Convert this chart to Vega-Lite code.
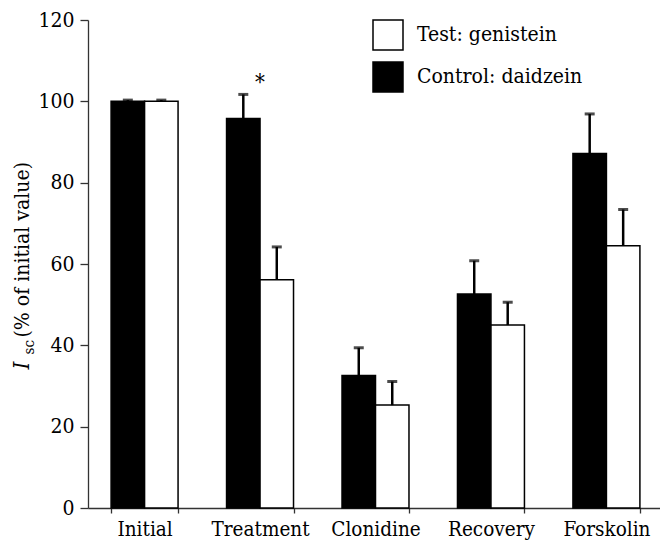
{
  "$schema": "https://vega.github.io/schema/vega-lite/v6.json",
  "width": 575,
  "height": 488,
  "autosize": {"type": "none"},
  "padding": {"left": 88, "top": 20, "right": 0, "bottom": 37},
  "background": "white",
  "config": {
    "view": {"stroke": null},
    "font": "DejaVu Serif Condensed",
    "axis": {
      "labelFont": "DejaVu Serif Condensed",
      "titleFont": "DejaVu Serif Condensed",
      "labelFontSize": 21,
      "titleFontSize": 21,
      "titleFontWeight": "normal",
      "labelColor": "black",
      "titleColor": "black",
      "domainColor": "#333",
      "tickColor": "#333",
      "domainWidth": 1.3,
      "tickWidth": 1.3,
      "grid": false
    },
    "axisX": {"labelFontSize": 20.5},
    "legend": {
      "labelFont": "DejaVu Serif Condensed",
      "labelFontSize": 21,
      "labelColor": "black",
      "labelLimit": 400
    }
  },
  "data": {
    "values": [
      {"phase": "Initial", "group": "Control: daidzein", "mean": 100, "upper": 100.3, "sig": ""},
      {"phase": "Initial", "group": "Test: genistein", "mean": 100, "upper": 100.3, "sig": ""},
      {"phase": "Treatment", "group": "Control: daidzein", "mean": 95.8, "upper": 101.7, "sig": "*"},
      {"phase": "Treatment", "group": "Test: genistein", "mean": 56.1, "upper": 64.2, "sig": ""},
      {"phase": "Clonidine", "group": "Control: daidzein", "mean": 32.6, "upper": 39.4, "sig": ""},
      {"phase": "Clonidine", "group": "Test: genistein", "mean": 25.3, "upper": 31.1, "sig": ""},
      {"phase": "Recovery", "group": "Control: daidzein", "mean": 52.6, "upper": 60.8, "sig": ""},
      {"phase": "Recovery", "group": "Test: genistein", "mean": 45.0, "upper": 50.6, "sig": ""},
      {"phase": "Forskolin", "group": "Control: daidzein", "mean": 87.2, "upper": 96.9, "sig": ""},
      {"phase": "Forskolin", "group": "Test: genistein", "mean": 64.5, "upper": 73.4, "sig": ""}
    ]
  },
  "encoding": {
    "x": {
      "field": "phase",
      "type": "nominal",
      "sort": ["Initial", "Treatment", "Clonidine", "Recovery", "Forskolin"],
      "scale": {"paddingInner": 0.42, "paddingOuter": 0.2},
      "axis": {
        "title": null,
        "labelAngle": 0,
        "tickBand": "extent",
        "tickSize": 5,
        "labelPadding": 6
      }
    }
  },
  "layer": [
    {
      "mark": {"type": "bar", "stroke": "black", "strokeWidth": 1.5},
      "encoding": {
        "xOffset": {"field": "group", "type": "nominal", "sort": ["Control: daidzein", "Test: genistein"]},
        "y": {
          "field": "mean",
          "type": "quantitative",
          "stack": null,
          "scale": {"domain": [0, 120], "nice": false},
          "axis": {
            "orient": "left",
            "values": [0, 20, 40, 60, 80, 100, 120],
            "tickSize": 8,
            "labelPadding": 6,
            "title": "(% of initial value)",
            "titleAngle": -90,
            "titleAlign": "left",
            "titleBaseline": "alphabetic",
            "titleX": -60,
            "titleY": 317
          }
        },
        "color": {
          "field": "group",
          "type": "nominal",
          "scale": {"domain": ["Test: genistein", "Control: daidzein"], "range": ["white", "black"]},
          "legend": {
            "title": null,
            "orient": "none",
            "legendX": 284,
            "legendY": -1,
            "padding": 0,
            "symbolType": "square",
            "symbolSize": 900,
            "symbolStrokeColor": "black",
            "symbolStrokeWidth": 1.5,
            "labelOffset": 13,
            "rowPadding": 6
          }
        }
      }
    },
    {
      "mark": {"type": "rule", "color": "black", "strokeWidth": 2.5},
      "encoding": {
        "xOffset": {"field": "group", "type": "nominal", "sort": ["Control: daidzein", "Test: genistein"]},
        "y": {
          "field": "mean",
          "type": "quantitative",
          "axis": {
            "orient": "left",
            "labels": false,
            "ticks": false,
            "domain": false,
            "title": "I",
            "titleFontStyle": "italic",
            "titleFontSize": 22,
            "titleAngle": -90,
            "titleAlign": "left",
            "titleBaseline": "alphabetic",
            "titleX": -60,
            "titleY": 349
          }
        },
        "y2": {"field": "upper"}
      }
    },
    {
      "mark": {"type": "tick", "color": "black", "thickness": 3, "size": 10},
      "encoding": {
        "xOffset": {"field": "group", "type": "nominal", "sort": ["Control: daidzein", "Test: genistein"]},
        "y": {
          "field": "upper",
          "type": "quantitative",
          "axis": {
            "orient": "left",
            "labels": false,
            "ticks": false,
            "domain": false,
            "title": "sc",
            "titleFontSize": 15,
            "titleAngle": -90,
            "titleAlign": "left",
            "titleBaseline": "alphabetic",
            "titleX": -55,
            "titleY": 334
          }
        }
      }
    },
    {
      "transform": [{"filter": "datum.sig != ''"}],
      "mark": {"type": "text", "fontSize": 22, "baseline": "alphabetic", "dy": -4, "color": "black", "font": "DejaVu Serif Condensed"},
      "encoding": {
        "y": {"field": "upper", "type": "quantitative", "axis": null},
        "text": {"field": "sig"}
      }
    }
  ],
  "resolve": {"axis": {"y": "independent"}}
}
